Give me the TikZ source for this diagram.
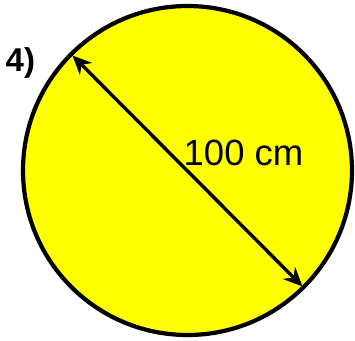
\documentclass[tikz,border=0pt]{standalone}
\usepackage{fontspec}
\setmainfont{Liberation Sans}
\usetikzlibrary{arrows.meta}
\definecolor{discfill}{RGB}{255,255,0}
\tikzset{
  disc/.style={draw=black, line width=4.2pt, fill=discfill},
  dimline/.style={line width=3.4pt, {Stealth[length=19pt,width=17pt]}-{Stealth[length=19pt,width=17pt]}},
  dimlabel/.style={inner sep=0pt, anchor=base west, font=\fontsize{36.5pt}{40pt}\selectfont},
  numlabel/.style={inner sep=0pt, anchor=base west, font=\fontsize{33pt}{36pt}\selectfont\bfseries}
}
\begin{document}
\begin{tikzpicture}[x=1pt,y=-1pt]
\useasboundingbox (0,0) rectangle (355,340);
\node[disc, circle, minimum size=329pt, inner sep=0pt] (c) at (187.5,170.5) {};
\coordinate (a) at (72.5,55.5);
\coordinate (b) at (302.5,286.5);
\draw[dimline] (a) -- (b);
\node[dimlabel] (lbl) at (183.5,165.7) {100 cm};
\node[numlabel] (num) at (5.5,71) {4)};
\end{tikzpicture}
\end{document}
